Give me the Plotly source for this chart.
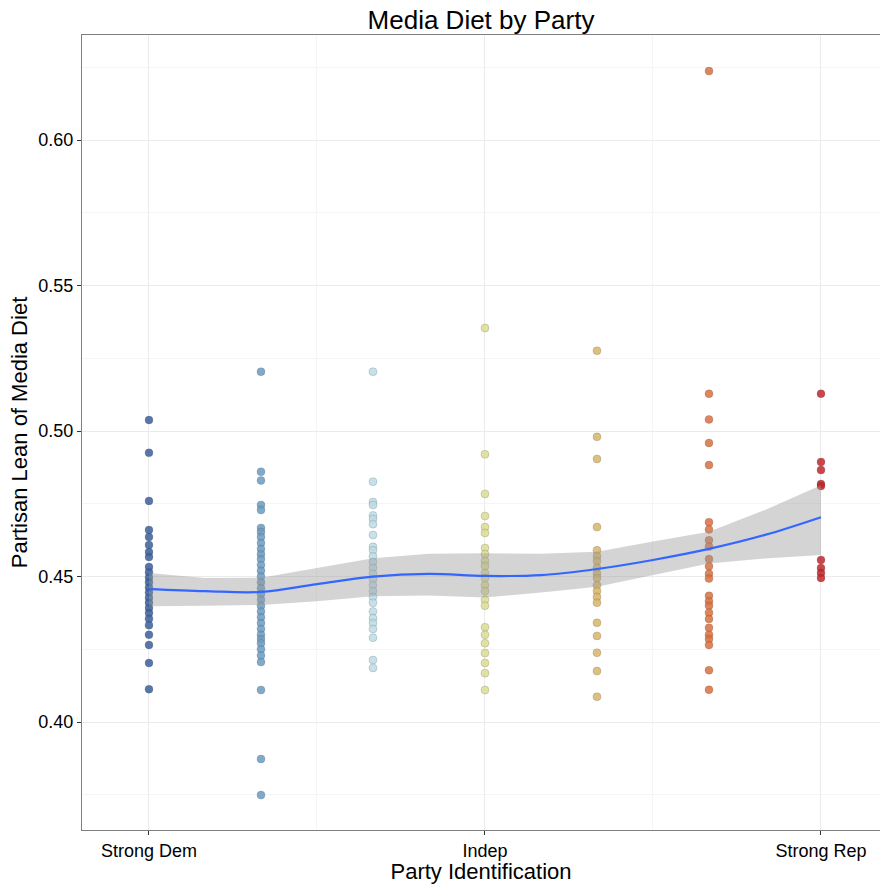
import plotly.graph_objects as go

# Party identification scale (1 = Strong Dem ... 7 = Strong Rep)
party_levels = [1, 2, 3, 4, 5, 6, 7]
party_tick_vals = [1, 4, 7]
party_tick_text = ["Strong Dem", "Indep", "Strong Rep"]

# Partisan lean of media diet, one list per party identification level
lean_strong_dem = [0.5038, 0.4925, 0.4760, 0.4660, 0.4636, 0.4608, 0.4584, 0.4567,
                   0.4533, 0.4515, 0.4497, 0.4480, 0.4462, 0.4445, 0.4427, 0.4410,
                   0.4392, 0.4375, 0.4355, 0.4333, 0.4300, 0.4265, 0.4203, 0.4113]
lean_weak_dem = [0.5204, 0.4860, 0.4830, 0.4746, 0.4729, 0.4667, 0.4653, 0.4636,
                 0.4615, 0.4595, 0.4577, 0.4560, 0.4540, 0.4520, 0.4500, 0.4480,
                 0.4460, 0.4440, 0.4420, 0.4400, 0.4380, 0.4360, 0.4340, 0.4320,
                 0.4300, 0.4285, 0.4271, 0.4250, 0.4229, 0.4206, 0.4110, 0.3873,
                 0.3749]
lean_lean_dem = [0.5204, 0.4826, 0.4756, 0.4746, 0.4710, 0.4698, 0.4680, 0.4643,
                 0.4602, 0.4590, 0.4570, 0.4550, 0.4530, 0.4510, 0.4490, 0.4470,
                 0.4450, 0.4430, 0.4410, 0.4380, 0.4357, 0.4340, 0.4320, 0.4290,
                 0.4213, 0.4186]
lean_indep = [0.5354, 0.4920, 0.4784, 0.4708, 0.4670, 0.4650, 0.4598, 0.4577,
              0.4553, 0.4536, 0.4512, 0.4495, 0.4470, 0.4450, 0.4420, 0.4400,
              0.4326, 0.4300, 0.4271, 0.4237, 0.4203, 0.4168, 0.4110]
lean_lean_rep = [0.5276, 0.4980, 0.4904, 0.4670, 0.4590, 0.4570, 0.4553, 0.4530,
                 0.4510, 0.4495, 0.4470, 0.4450, 0.4430, 0.4410, 0.4341, 0.4296,
                 0.4238, 0.4175, 0.4087]
lean_weak_rep = [0.6237, 0.5128, 0.5040, 0.4959, 0.4883, 0.4687, 0.4662, 0.4625,
                 0.4603, 0.4560, 0.4535, 0.4510, 0.4493, 0.4434, 0.4415, 0.4400,
                 0.4376, 0.4354, 0.4324, 0.4300, 0.4285, 0.4265, 0.4178, 0.4111]
lean_strong_rep = [0.5128, 0.4894, 0.4866, 0.4818, 0.4811, 0.4557, 0.4529, 0.4512,
                   0.4495]

lean_by_level = [lean_strong_dem, lean_weak_dem, lean_lean_dem, lean_indep,
                 lean_lean_rep, lean_weak_rep, lean_strong_rep]

# Diverging palette, blue (Dem) to red (Rep)
level_colors = ["#3a609c", "#6b9cc1", "#bcdce6", "#dcdc92",
                "#d8b468", "#d9703f", "#c2262b"]

# Loess smoother and its confidence band
smooth_x = [1, 1.5, 2, 2.5, 3, 3.5, 4, 4.5, 5, 5.5, 6, 6.5, 7]
smooth_fit = [0.4457, 0.4450, 0.4447, 0.4474, 0.4500, 0.4509, 0.4502, 0.4505,
              0.4526, 0.4557, 0.4595, 0.4643, 0.4704]
smooth_upper = [0.4512, 0.4495, 0.4496, 0.4530, 0.4563, 0.4578, 0.4580, 0.4578,
                0.4585, 0.4620, 0.4654, 0.4729, 0.4814]
smooth_lower = [0.4398, 0.4400, 0.4402, 0.4415, 0.4432, 0.4435, 0.4428, 0.4445,
                0.4465, 0.4505, 0.4545, 0.4562, 0.4574]

font_family = "Liberation Sans, Arial, sans-serif"

fig = go.Figure()

for level, values, color in zip(party_levels, lean_by_level, level_colors):
    fig.add_trace(go.Scatter(
        x=[level] * len(values),
        y=values,
        mode="markers",
        marker=dict(size=8, color=color, opacity=0.85,
                    line=dict(width=0.6, color="rgba(60,60,60,0.35)")),
        showlegend=False,
        hoverinfo="y",
    ))

# Confidence band as a closed polygon
fig.add_trace(go.Scatter(
    x=smooth_x + smooth_x[::-1],
    y=smooth_upper + smooth_lower[::-1],
    fill="toself",
    fillcolor="rgba(153,153,153,0.42)",
    line=dict(width=0),
    mode="lines",
    showlegend=False,
    hoverinfo="skip",
))

fig.add_trace(go.Scatter(
    x=smooth_x,
    y=smooth_fit,
    mode="lines",
    line=dict(color="#3366ff", width=2.2, shape="spline"),
    showlegend=False,
    hoverinfo="skip",
))

fig.update_layout(
    width=880,
    height=884,
    margin=dict(l=82, r=0, t=35, b=54),
    paper_bgcolor="white",
    plot_bgcolor="white",
    font=dict(family=font_family, color="#000000"),
    title=dict(
        text="Media Diet by Party",
        x=0.5, xref="paper", xanchor="center",
        y=0.978, yref="container", yanchor="middle",
        font=dict(size=26, family=font_family, color="#000000"),
    ),
)

fig.update_xaxes(
    range=[0.402, 7.527],
    tickmode="array",
    tickvals=party_tick_vals,
    ticktext=party_tick_text,
    ticks="outside",
    ticklen=4,
    tickwidth=1,
    tickcolor="#333333",
    tickfont=dict(size=18, color="#000000"),
    showgrid=True,
    gridcolor="#ebebeb",
    gridwidth=1,
    minor=dict(tickmode="array", tickvals=[2.5, 5.5], showgrid=True,
               gridcolor="#f5f5f5", gridwidth=1, ticks=""),
    showline=True,
    linecolor="#7f7f7f",
    linewidth=1.2,
    mirror=True,
    zeroline=False,
    title=dict(text="Party Identification", font=dict(size=22, color="#000000"),
               standoff=0),
)

fig.update_yaxes(
    range=[0.3629, 0.6361],
    tickvals=[0.40, 0.45, 0.50, 0.55, 0.60],
    tickformat=".2f",
    ticks="outside",
    ticklen=4,
    tickwidth=1,
    tickcolor="#333333",
    tickfont=dict(size=18, color="#000000"),
    showgrid=True,
    gridcolor="#ebebeb",
    gridwidth=1,
    minor=dict(tickmode="array", tickvals=[0.375, 0.425, 0.475, 0.525, 0.575, 0.625],
               showgrid=True, gridcolor="#f5f5f5", gridwidth=1, ticks=""),
    showline=True,
    linecolor="#7f7f7f",
    linewidth=1.2,
    mirror=False,
    zeroline=False,
    title=dict(text="Partisan Lean of Media Diet", font=dict(size=22, color="#000000"),
               standoff=4),
)

fig.write_html("out.html")
